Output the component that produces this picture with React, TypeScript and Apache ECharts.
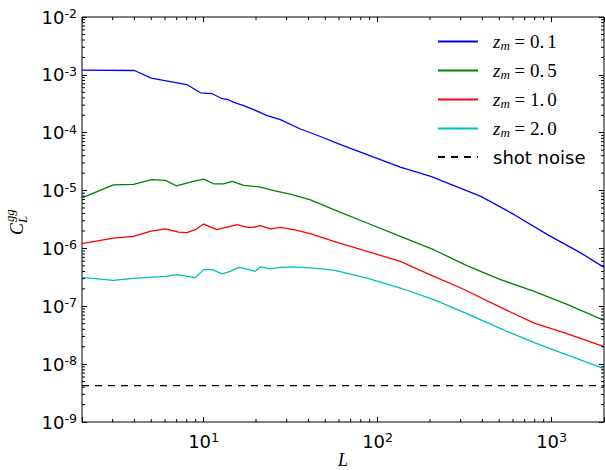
import React, { useEffect, useRef } from "react";
import * as echarts from "echarts";

// ---- data (L, C_L^gg) ----
const L_Z01 = [2, 4, 5, 8, 9.6, 11.2, 12.8, 13.9, 14.9, 17.0, 19.4, 23.2, 27.6, 36, 46.9, 61.2, 87, 135, 202, 392, 610, 948, 1476, 2000];
const C_Z01 = [1.21e-3, 1.19e-3, 8.8e-4, 6.8e-4, 4.9e-4, 4.72e-4, 3.87e-4, 3.72e-4, 3.34e-4, 2.93e-4, 2.5e-4, 1.97e-4, 1.68e-4, 1.16e-4, 8.6e-5, 6.2e-5, 4.17e-5, 2.55e-5, 1.76e-5, 7.94e-6, 3.83e-6, 1.73e-6, 8.3e-7, 4.7e-7];

const L_Z05 = [2, 3.03, 3.95, 5.05, 6.02, 6.96, 8.76, 10, 11.4, 13.0, 14.6, 17.0, 21.2, 25.3, 31.5, 41.1, 56, 87, 135, 210, 328, 509, 794, 1237, 2000];
const C_Z05 = [7.45e-6, 1.25e-5, 1.28e-5, 1.54e-5, 1.5e-5, 1.21e-5, 1.44e-5, 1.58e-5, 1.31e-5, 1.31e-5, 1.44e-5, 1.23e-5, 1.15e-5, 1.0e-5, 8.7e-6, 6.9e-6, 4.7e-6, 2.75e-6, 1.62e-6, 9.5e-7, 5.0e-7, 2.88e-7, 1.81e-7, 1.07e-7, 5.7e-8];

const L_Z10 = [2, 3.03, 3.95, 4.93, 6.02, 7.18, 8.02, 8.96, 10, 11.9, 13.6, 15.6, 17.8, 19.4, 21.2, 24.2, 27.6, 32.9, 41.1, 56, 87, 135, 210, 301, 520, 794, 1178, 2000];
const C_Z10 = [1.21e-6, 1.51e-6, 1.61e-6, 1.97e-6, 2.17e-6, 1.92e-6, 1.87e-6, 2.11e-6, 2.64e-6, 2.11e-6, 2.34e-6, 2.57e-6, 2.32e-6, 2.32e-6, 2.47e-6, 2.17e-6, 2.32e-6, 2.11e-6, 1.8e-6, 1.32e-6, 8.9e-7, 5.97e-7, 3.29e-7, 2.07e-7, 9.3e-8, 5.1e-8, 3.5e-8, 2.0e-8];

const L_Z20 = [2, 3.03, 3.95, 6.02, 7.04, 8.96, 10, 11.2, 12.8, 14.2, 15.9, 17.8, 19.8, 21.2, 24.2, 27.6, 32.9, 41.1, 56, 87, 135, 210, 328, 509, 794, 1400, 2000];
const C_Z20 = [3.16e-7, 2.8e-7, 3.03e-7, 3.29e-7, 3.52e-7, 3.12e-7, 4.3e-7, 4.3e-7, 3.62e-7, 4.0e-7, 4.7e-7, 4.4e-7, 4.0e-7, 4.8e-7, 4.45e-7, 4.7e-7, 4.8e-7, 4.6e-7, 4.2e-7, 3.08e-7, 2.07e-7, 1.3e-7, 7.4e-8, 4.1e-8, 2.35e-8, 1.25e-8, 8.4e-9];

const SHOT_L = [2, 2000];
const SHOT_C = [4.24e-9, 4.24e-9];

const SERIES_NAMES = ["zm=0.1", "zm=0.5", "zm=1.0", "zm=2.0", "shot noise"];
const SERIES_VALUES = ["0.1", "0.5", "1.0", "2.0"];
const SERIES_COLORS = ["#0000ff", "#008000", "#ff0000", "#00bfbf", "#000000"];

const X_MIN = 2;
const X_MAX = 2000;
const Y_MIN = 1e-9;
const Y_MAX = 1e-2;
const X_MINOR = [3, 4, 5, 6, 7, 8, 9, 20, 30, 40, 50, 60, 70, 80, 90, 200, 300, 400, 500, 600, 700, 800, 900];
const Y_MINOR_MANTISSA = [2, 3, 4, 5, 6, 7, 8, 9];
const Y_MINOR_EXPONENTS = [-9, -8, -7, -6, -5, -4, -3];

const SERIF = '"Liberation Serif", "DejaVu Serif", serif';
const SANS = '"DejaVu Sans", sans-serif';

function pairs(xs: number[], ys: number[]) {
  return xs.map((x, i) => [x, ys[i]]);
}

function powLabel(v: number) {
  const lg = Math.log10(v);
  const e = Math.round(lg);
  if (Math.abs(lg - e) > 1e-6) return "";
  return `{b|10}{s|${e}}`;
}

const tickRich = {
  b: { fontFamily: SANS, fontSize: 18, lineHeight: 20, color: "#000" },
  s: { fontFamily: SANS, fontSize: 12.6, lineHeight: 10, verticalAlign: "top", color: "#000" },
};

export default function App() {
  const ref = useRef<HTMLDivElement>(null);
  useEffect(() => {
    if (!ref.current) return;
    const chart = echarts.init(ref.current, null, { renderer: "svg" });
    const yMinor: number[] = [];
    Y_MINOR_EXPONENTS.forEach((e) => Y_MINOR_MANTISSA.forEach((m) => yMinor.push(m * Math.pow(10, e))));

    const dataSets = [
      pairs(L_Z01, C_Z01),
      pairs(L_Z05, C_Z05),
      pairs(L_Z10, C_Z10),
      pairs(L_Z20, C_Z20),
      pairs(SHOT_L, SHOT_C),
    ];

    const lineSeries = dataSets.map((d, i) => ({
      name: SERIES_NAMES[i],
      type: "line",
      data: d,
      symbol: "none",
      showSymbol: false,
      smooth: false,
      xAxisIndex: 0,
      yAxisIndex: 0,
      color: SERIES_COLORS[i],
      lineStyle: {
        width: 1.3,
        color: SERIES_COLORS[i],
        type: i === 4 ? [7, 6] : "solid",
      },
      itemStyle: { color: SERIES_COLORS[i] },
      z: 3,
    }));

    const tickStyle = { stroke: "#000", lineWidth: 1 };
    const minorSeries = {
      type: "custom",
      name: "minor",
      coordinateSystem: "cartesian2d",
      xAxisIndex: 0,
      yAxisIndex: 0,
      silent: true,
      clip: false,
      data: [[10, 1e-5]],
      renderItem: (_params: any, api: any) => {
        const children: any[] = [];
        const len = 3;
        X_MINOR.forEach((x) => {
          const b = api.coord([x, Y_MIN]);
          const t = api.coord([x, Y_MAX]);
          children.push({ type: "line", shape: { x1: b[0], y1: b[1], x2: b[0], y2: b[1] - len }, style: tickStyle });
          children.push({ type: "line", shape: { x1: t[0], y1: t[1], x2: t[0], y2: t[1] + len }, style: tickStyle });
        });
        yMinor.forEach((y) => {
          const l = api.coord([X_MIN, y]);
          const r = api.coord([X_MAX, y]);
          children.push({ type: "line", shape: { x1: l[0], y1: l[1], x2: l[0] + len, y2: l[1] }, style: tickStyle });
          children.push({ type: "line", shape: { x1: r[0], y1: r[1], x2: r[0] - len, y2: r[1] }, style: tickStyle });
        });
        return { type: "group", children };
      },
      z: 4,
    };

    const baseX = {
      type: "log",
      logBase: 10,
      min: X_MIN,
      max: X_MAX,
      axisLine: { show: false },
      splitLine: { show: false },
      axisTick: { inside: true, length: 5, lineStyle: { color: "#000", width: 1 } },
    };
    const baseY = {
      type: "log",
      logBase: 10,
      min: Y_MIN,
      max: Y_MAX,
      splitNumber: 7,
      axisLine: { show: false },
      splitLine: { show: false },
      axisTick: { inside: true, length: 5, lineStyle: { color: "#000", width: 1 } },
    };

    chart.setOption({
      animation: false,
      backgroundColor: "#ffffff",
      grid: {
        left: 82,
        right: 1,
        top: 17,
        bottom: 48,
        containLabel: false,
        outerBoundsMode: "none",
        show: true,
        borderColor: "#000",
        borderWidth: 1,
        backgroundColor: "transparent",
      },
      legend: {
        data: SERIES_NAMES,
        orient: "vertical",
        left: 437,
        top: 32,
        padding: 0,
        itemWidth: 40,
        itemHeight: 14,
        itemGap: 9,
        itemStyle: { opacity: 0 },
        formatter: (name: string) => {
          const idx = SERIES_NAMES.indexOf(name);
          if (idx < 4) {
            const [a, b] = SERIES_VALUES[idx].split(".");
            return `{z|z}{m|m}{t| = ${a}.}{d|${b}}`;
          }
          return `{p|shot noise}`;
        },
        textStyle: {
          rich: {
            z: { fontFamily: SERIF, fontStyle: "italic", fontSize: 19, lineHeight: 21, padding: [0, 0, 0, 10], color: "#000" },
            m: { fontFamily: SERIF, fontStyle: "italic", fontSize: 13, lineHeight: 10, verticalAlign: "bottom", color: "#000" },
            t: { fontFamily: SERIF, fontSize: 19, lineHeight: 21, color: "#000" },
            d: { fontFamily: SERIF, fontSize: 19, lineHeight: 21, padding: [0, 0, 0, 3], color: "#000" },
            p: { fontFamily: SANS, fontSize: 18, lineHeight: 21, padding: [0, 0, 0, 10], color: "#000" },
          },
        },
      },
      xAxis: [
        {
          ...baseX,
          position: "bottom",
          name: "L",
          nameLocation: "middle",
          nameGap: 29,
          nameMoveOverlap: false,
          nameTextStyle: { fontFamily: SERIF, fontStyle: "italic", fontSize: 18, lineHeight: 18, color: "#000" },
          axisLabel: {
            margin: 9,
            formatter: (v: number) => powLabel(v),
            rich: tickRich,
            showMinLabel: true,
            showMaxLabel: true,
          },
        },
        { ...baseX, position: "top", axisLabel: { show: false } },
      ],
      yAxis: [
        {
          ...baseY,
          position: "left",
          axisLabel: {
            margin: 5,
            formatter: (v: number) => powLabel(v),
            rich: tickRich,
            showMinLabel: true,
            showMaxLabel: true,
          },
        },
        { ...baseY, position: "right", axisLabel: { show: false } },
      ],
      graphic: [
        {
          type: "group",
          x: 17,
          y: 222,
          rotation: Math.PI / 2,
          children: [
            {
              type: "text",
              x: -13,
              y: 0,
              style: { text: "C", font: `italic 18px ${SERIF}`, fill: "#000", align: "left", textAlign: "left", verticalAlign: "middle", textVerticalAlign: "middle" },
            },
            {
              type: "text",
              x: 0,
              y: -7,
              style: { text: "gg", font: `italic 12.6px ${SERIF}`, fill: "#000", align: "left", textAlign: "left", verticalAlign: "middle", textVerticalAlign: "middle" },
            },
            {
              type: "text",
              x: -1,
              y: 6,
              style: { text: "L", font: `italic 12.6px ${SERIF}`, fill: "#000", align: "left", textAlign: "left", verticalAlign: "middle", textVerticalAlign: "middle" },
            },
          ],
        },
      ],
      series: [...lineSeries, minorSeries],
    });
    return () => chart.dispose();
  }, []);
  return <div ref={ref} style={{ position: "absolute", left: 0, top: 0, width: 605, height: 470 }} />;
}
